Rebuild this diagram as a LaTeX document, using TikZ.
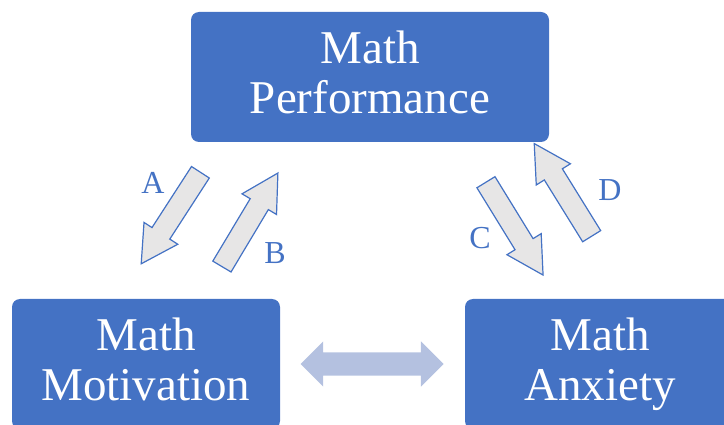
\documentclass[tikz,border=0pt]{standalone}
\usepackage{fontspec}
\setmainfont{Liberation Serif}
\usetikzlibrary{shapes.arrows}
\definecolor{boxblue}{HTML}{4472C4}
\definecolor{arrowgray}{HTML}{E7E6E6}
\definecolor{linkblue}{HTML}{B4C1E0}
\begin{document}
\begin{tikzpicture}[x=1pt, y=-1pt,
    box/.style={fill=boxblue, rounded corners=8pt, minimum width=#1, minimum height=130pt,
      text=white, align=center, font=\fontsize{47}{50}\selectfont, text depth=10pt},
    effect/.style={single arrow, draw=boxblue, fill=arrowgray, line width=1.2pt,
      minimum height=109pt, inner sep=10pt, single arrow head extend=9.5pt,
      single arrow tip angle=58, rotate=#1},
    tag/.style={text=boxblue, font=\fontsize{32}{36}\selectfont}]
  \clip (0,0) rectangle (724,425);
  % the three factors
  \node[box=358pt] (P) at (370,77) {Math\\Performance};
  \node[box=268pt] (M) at (146,364) {Math\\Motivation};
  \node[box=270pt] (X) at (600,364) {Math\\Anxiety};
  % paths between them
  \node[effect=-122.9] (a) at (176,210) {};
  \node[effect=59.1] (b) at (245,228) {};
  \node[effect=-58.4] (c) at (509.5,220.5) {};
  \node[effect=121.8] (d) at (568,198) {};
  \node[tag] (la) at (153,183) {A};
  \node[tag] (lb) at (275,253) {B};
  \node[tag] (lc) at (480,238) {C};
  \node[tag] (ld) at (610,190) {D};
  \node[double arrow, fill=linkblue, minimum height=143pt, inner sep=11.5pt,
    double arrow head extend=11pt] (link) at (372,364) {};
\end{tikzpicture}
\end{document}
